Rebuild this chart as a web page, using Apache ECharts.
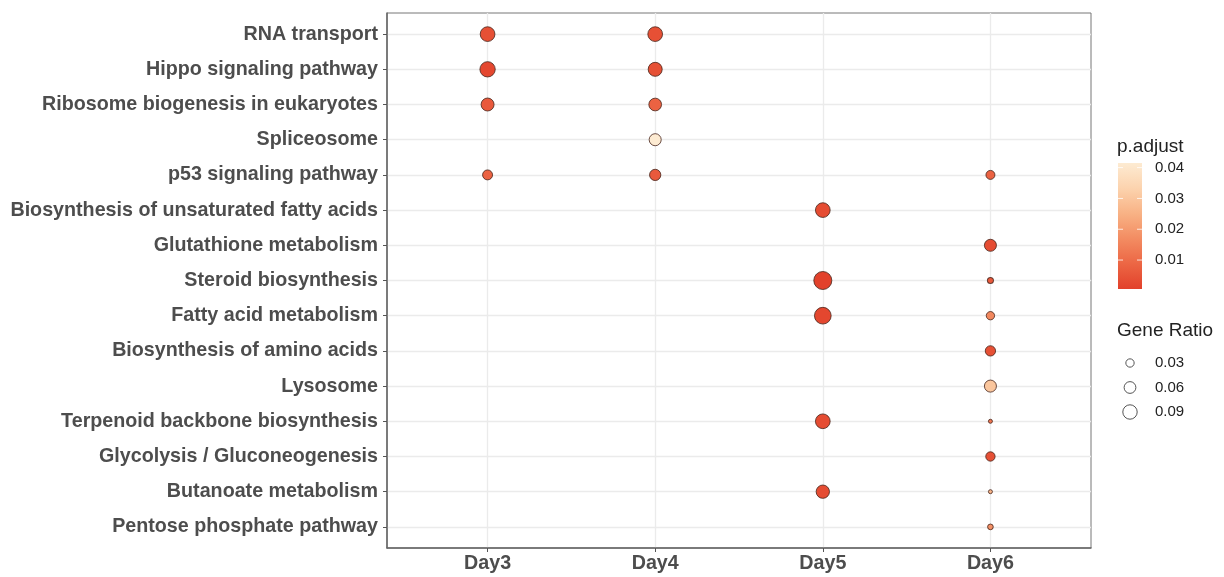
<!DOCTYPE html>
<html>
<head>
<meta charset="utf-8">
<script src="https://cdn.jsdelivr.net/npm/echarts@6/dist/echarts.min.js"></script>
<style>
  html, body { margin: 0; padding: 0; background: #fff; }
  #chart { width: 1224px; height: 577px; }
</style>
</head>
<body>
<div id="chart"></div>
<script>
// KEGG pathways, top to bottom
const pathways = [
  'RNA transport',
  'Hippo signaling pathway',
  'Ribosome biogenesis in eukaryotes',
  'Spliceosome',
  'p53 signaling pathway',
  'Biosynthesis of unsaturated fatty acids',
  'Glutathione metabolism',
  'Steroid biosynthesis',
  'Fatty acid metabolism',
  'Biosynthesis of amino acids',
  'Lysosome',
  'Terpenoid backbone biosynthesis',
  'Glycolysis / Gluconeogenesis',
  'Butanoate metabolism',
  'Pentose phosphate pathway'
];
const days = ['Day3', 'Day4', 'Day5', 'Day6'];

// Enriched terms per day: gene ratio and adjusted p value
const day3Terms = ['RNA transport', 'Hippo signaling pathway', 'Ribosome biogenesis in eukaryotes', 'p53 signaling pathway'];
const day3Ratio = [0.094, 0.102, 0.073, 0.043];
const day3P     = [0.004, 0.002, 0.006, 0.008];

const day4Terms = ['RNA transport', 'Hippo signaling pathway', 'Ribosome biogenesis in eukaryotes', 'Spliceosome', 'p53 signaling pathway'];
const day4Ratio = [0.094, 0.085, 0.070, 0.063, 0.055];
const day4P     = [0.004, 0.004, 0.008, 0.0415, 0.006];

const day5Terms = ['Biosynthesis of unsaturated fatty acids', 'Steroid biosynthesis', 'Fatty acid metabolism', 'Terpenoid backbone biosynthesis', 'Butanoate metabolism'];
const day5Ratio = [0.094, 0.141, 0.121, 0.094, 0.077];
const day5P     = [0.003, 0.0006, 0.002, 0.003, 0.003];

const day6Terms = ['p53 signaling pathway', 'Glutathione metabolism', 'Steroid biosynthesis', 'Fatty acid metabolism', 'Biosynthesis of amino acids', 'Lysosome', 'Terpenoid backbone biosynthesis', 'Glycolysis / Gluconeogenesis', 'Butanoate metabolism', 'Pentose phosphate pathway'];
const day6Ratio = [0.035, 0.063, 0.016, 0.030, 0.046, 0.063, 0.007, 0.038, 0.007, 0.014];
const day6P     = [0.008, 0.003, 0.006, 0.016, 0.004, 0.030, 0.012, 0.004, 0.026, 0.018];

// Legend breaks
const pTicks = [0.01, 0.02, 0.03, 0.04];
const ratioTicks = [0.03, 0.06, 0.09];

// Colour ramp for p.adjust, low to high
const pColors = ['#E2412B', '#EC6644', '#F38C62', '#F8B285', '#FCD3AE', '#FDEBD2'];

const FONT = "'Liberation Sans', Arial, sans-serif";
const SIZE_K = 48; // symbol diameter = SIZE_K * sqrt(gene ratio)

const perDay = [
  [day3Terms, day3Ratio, day3P],
  [day4Terms, day4Ratio, day4P],
  [day5Terms, day5Ratio, day5P],
  [day6Terms, day6Ratio, day6P]
];
const points = [];
perDay.forEach(([terms, ratios, ps], d) => {
  terms.forEach((t, k) => {
    points.push([d + 1, pathways.indexOf(t) + 1, ratios[k], ps[k]]);
  });
});
const allP = points.map(p => p[3]);
const pMin = Math.min(...allP);
const pMax = Math.max(...allP);

const dayIdx = days.map((_, i) => i + 1);
const pathIdx = pathways.map((_, i) => i + 1);

const chart = echarts.init(document.getElementById('chart'), null, { renderer: 'canvas' });

// Legend geometry
const bar = { x: 1118, y: 163, w: 24, h: 126 };
const gradStops = pColors.map((c, i) => ({ offset: 1 - i / (pColors.length - 1), color: c }));
const graphics = [];
graphics.push({
  type: 'text', left: 1117, top: 137,
  style: { text: 'p.adjust', font: `19px ${FONT}`, fill: '#222' }
});
graphics.push({
  type: 'rect', shape: { x: bar.x, y: bar.y, width: bar.w, height: bar.h },
  style: { fill: new echarts.graphic.LinearGradient(0, 0, 0, 1, gradStops.slice().reverse()) }
});
pTicks.forEach(t => {
  const y = bar.y + bar.h - (t - pMin) / (pMax - pMin) * bar.h;
  graphics.push({ type: 'line', shape: { x1: bar.x, y1: y, x2: bar.x + 5, y2: y }, style: { stroke: 'rgba(255,255,255,0.8)', lineWidth: 1 } });
  graphics.push({ type: 'line', shape: { x1: bar.x + bar.w - 5, y1: y, x2: bar.x + bar.w, y2: y }, style: { stroke: 'rgba(255,255,255,0.8)', lineWidth: 1 } });
  graphics.push({
    type: 'text', x: 1155, y: y,
    style: { text: t.toFixed(2), font: `15px ${FONT}`, fill: '#222', textVerticalAlign: 'middle', verticalAlign: 'middle' }
  });
});
graphics.push({
  type: 'text', left: 1117, top: 321,
  style: { text: 'Gene Ratio', font: `19px ${FONT}`, fill: '#222' }
});
ratioTicks.forEach((v, i) => {
  const cy = 363 + i * 24.5;
  graphics.push({
    type: 'circle', shape: { cx: 1130, cy: cy, r: SIZE_K * Math.sqrt(v) / 2 },
    style: { fill: 'none', stroke: '#555', lineWidth: 1 }
  });
  graphics.push({
    type: 'text', x: 1155, y: cy,
    style: { text: v.toFixed(2), font: `15px ${FONT}`, fill: '#222', textVerticalAlign: 'middle', verticalAlign: 'middle' }
  });
});

const axisText = { fontSize: 19.7, fontWeight: 'bold', color: '#4D4D4D', fontFamily: FONT };

chart.setOption({
  animation: false,
  backgroundColor: '#fff',
  grid: {
    left: 387, top: 13, right: 133, bottom: 29,
    show: true, borderColor: '#777', borderWidth: 1, backgroundColor: '#fff'
  },
  xAxis: {
    type: 'value', min: 0.4, max: 4.6,
    axisLine: { show: true, onZero: false, lineStyle: { color: '#666', width: 1.5 } },
    axisTick: { show: true, length: 4, customValues: dayIdx, lineStyle: { color: '#555', width: 1 } },
    axisLabel: { customValues: dayIdx, formatter: v => days[Math.round(v) - 1], margin: 6, ...axisText },
    splitLine: { show: true, lineStyle: { color: '#EBEBEB', width: 1.3 } }
  },
  yAxis: {
    type: 'value', inverse: true, min: 0.4, max: 15.6,
    axisLine: { show: true, onZero: false, lineStyle: { color: '#666', width: 1.5 } },
    axisTick: { show: true, length: 4, customValues: pathIdx, lineStyle: { color: '#555', width: 1 } },
    axisLabel: { customValues: pathIdx, formatter: v => pathways[Math.round(v) - 1], margin: 9, ...axisText },
    splitLine: { show: true, lineStyle: { color: '#EBEBEB', width: 1.3 } }
  },
  visualMap: {
    show: false, type: 'continuous', dimension: 3, seriesIndex: 0,
    min: pMin, max: pMax, inRange: { color: pColors }
  },
  series: [{
    type: 'scatter',
    data: points,
    symbol: 'circle',
    symbolSize: v => SIZE_K * Math.sqrt(v[2]),
    itemStyle: { borderColor: 'rgba(70,35,25,0.8)', borderWidth: 1, opacity: 1 },
    emphasis: { disabled: true }
  }],
  graphic: graphics
});
</script>
</body>
</html>
